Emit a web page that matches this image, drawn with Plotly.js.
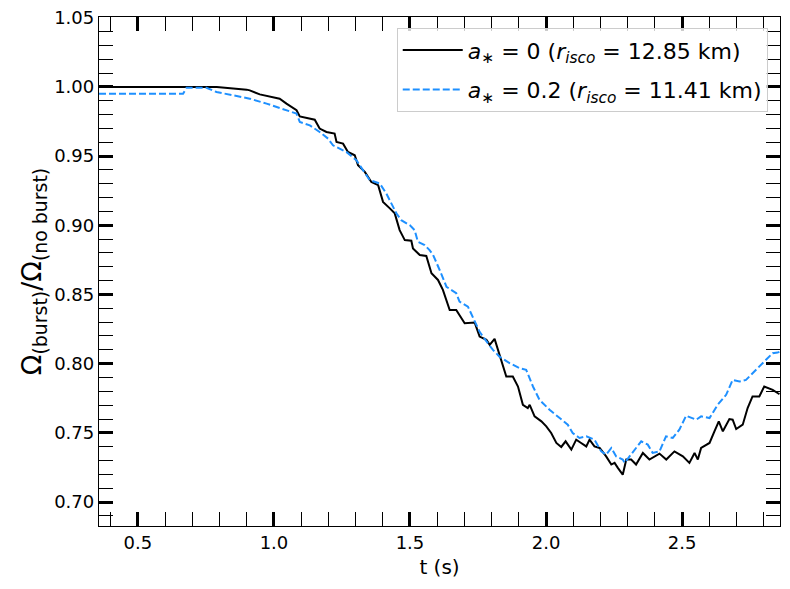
<!DOCTYPE html>
<html>
<head>
<meta charset="utf-8">
<script src="https://cdn.plot.ly/plotly-3.0.1.min.js"></script>
<style>
  html, body { margin: 0; padding: 0; background: #fff; }
  #chart { width: 790px; height: 589px; }
</style>
</head>
<body>
<div id="chart"></div>
<script>
// a* = 0 (r_isco = 12.85 km)
const tSpin0 = [0.357, 0.790, 0.900, 0.911, 0.948, 0.985, 1.021, 1.046, 1.083, 1.095, 1.150, 1.168, 1.193, 1.223, 1.230, 1.254, 1.272, 1.297, 1.309, 1.334, 1.358, 1.383, 1.401, 1.425, 1.444, 1.462, 1.481, 1.505, 1.511, 1.536, 1.560, 1.579, 1.603, 1.621, 1.646, 1.670, 1.682, 1.701, 1.738, 1.756, 1.781, 1.793, 1.811, 1.823, 1.836, 1.854, 1.878, 1.897, 1.915, 1.933, 1.940, 1.958, 1.983, 2.001, 2.019, 2.038, 2.056, 2.072, 2.093, 2.111, 2.129, 2.148, 2.160, 2.178, 2.197, 2.221, 2.240, 2.252, 2.264, 2.282, 2.295, 2.313, 2.331, 2.356, 2.380, 2.399, 2.417, 2.442, 2.472, 2.503, 2.527, 2.546, 2.558, 2.570, 2.601, 2.619, 2.635, 2.650, 2.674, 2.686, 2.699, 2.723, 2.741, 2.759, 2.784, 2.802, 2.815, 2.833, 2.851, 2.858];
const omegaSpin0 = [1.000, 1.000, 0.998, 0.9975, 0.9946, 0.9931, 0.9915, 0.9879, 0.9831, 0.9787, 0.9763, 0.9699, 0.9674, 0.9663, 0.9602, 0.9590, 0.9530, 0.9506, 0.9434, 0.9386, 0.9313, 0.9290, 0.9169, 0.9124, 0.9086, 0.8965, 0.8893, 0.8888, 0.8833, 0.8785, 0.8778, 0.8653, 0.8605, 0.8533, 0.8388, 0.8388, 0.8352, 0.8292, 0.8297, 0.8196, 0.8172, 0.8136, 0.8179, 0.8100, 0.8028, 0.7907, 0.7907, 0.7835, 0.7703, 0.7679, 0.7703, 0.7619, 0.7583, 0.7547, 0.7499, 0.7427, 0.7398, 0.7439, 0.7379, 0.7451, 0.7427, 0.7402, 0.7451, 0.7402, 0.7391, 0.7330, 0.7271, 0.7283, 0.7247, 0.7198, 0.7307, 0.7307, 0.7271, 0.7355, 0.7307, 0.7330, 0.7350, 0.7307, 0.7366, 0.7330, 0.7283, 0.7355, 0.7307, 0.7391, 0.7427, 0.7511, 0.7583, 0.7511, 0.7600, 0.7595, 0.7528, 0.7559, 0.7679, 0.7763, 0.7763, 0.7835, 0.7824, 0.7811, 0.7788, 0.7780];

// a* = 0.2 (r_isco = 11.41 km)
const tSpin02 = [0.357, 0.666, 0.679, 0.752, 0.789, 0.850, 0.911, 0.973, 1.046, 1.083, 1.095, 1.132, 1.168, 1.199, 1.217, 1.266, 1.303, 1.327, 1.352, 1.389, 1.413, 1.450, 1.468, 1.499, 1.517, 1.529, 1.554, 1.572, 1.585, 1.609, 1.634, 1.670, 1.682, 1.713, 1.731, 1.756, 1.786, 1.805, 1.829, 1.866, 1.903, 1.927, 1.952, 1.976, 2.013, 2.050, 2.080, 2.098, 2.123, 2.148, 2.178, 2.203, 2.221, 2.240, 2.258, 2.282, 2.289, 2.307, 2.331, 2.350, 2.374, 2.392, 2.417, 2.441, 2.466, 2.490, 2.515, 2.533, 2.552, 2.570, 2.601, 2.631, 2.662, 2.686, 2.711, 2.735, 2.759, 2.784, 2.809, 2.833, 2.851, 2.858];
const omegaSpin02 = [0.9951, 0.9951, 0.9994, 0.9994, 0.9963, 0.9939, 0.9915, 0.9879, 0.9831, 0.9807, 0.9746, 0.9722, 0.9674, 0.9626, 0.9578, 0.9530, 0.9470, 0.9398, 0.9326, 0.9302, 0.9230, 0.9086, 0.9037, 0.9001, 0.8965, 0.8881, 0.8857, 0.8821, 0.8785, 0.8677, 0.8556, 0.8509, 0.8448, 0.8412, 0.8340, 0.8230, 0.8148, 0.8100, 0.8051, 0.8004, 0.7968, 0.7956, 0.7835, 0.7739, 0.7667, 0.7607, 0.7559, 0.7499, 0.7463, 0.7475, 0.7451, 0.7366, 0.7343, 0.7391, 0.7330, 0.7307, 0.7283, 0.7330, 0.7391, 0.7439, 0.7415, 0.7355, 0.7366, 0.7475, 0.7463, 0.7523, 0.7624, 0.7607, 0.7595, 0.7619, 0.7607, 0.7703, 0.7775, 0.7883, 0.7871, 0.7883, 0.7932, 0.7979, 0.8028, 0.8076, 0.8080, 0.8085];

const xTickVals = [0.5, 1.0, 1.5, 2.0, 2.5];
const xTickText = ["0.5", "1.0", "1.5", "2.0", "2.5"];
const yTickVals = [0.70, 0.75, 0.80, 0.85, 0.90, 0.95, 1.00, 1.05];
const yTickText = ["0.70", "0.75", "0.80", "0.85", "0.90", "0.95", "1.00", "1.05"];

const spin0Trace = {
  x: tSpin0,
  y: omegaSpin0,
  mode: "lines",
  type: "scatter",
  legendgroup: "spin0",
  name: "<i>a</i><sub>∗</sub> = 0 (<i>r</i><sub><i>isco</i></sub> = 12.85 km)",
  line: { color: "#000000", width: 2 },
};

const spin02Trace = {
  x: tSpin02,
  y: omegaSpin02,
  mode: "lines",
  type: "scatter",
  legendgroup: "spin02",
  name: "<i>a</i><sub>∗</sub> = 0.2 (<i>r</i><sub><i>isco</i></sub> = 11.41 km)",
  line: { color: "#1e90ff", width: 2, dash: "7px,3px" },
};

const axisStyle = {
  showgrid: false,
  zeroline: false,
  showline: true,
  linecolor: "#000",
  linewidth: 1.3,
  mirror: "allticks",
  ticks: "inside",
  ticklen: 14,
  tickwidth: 2.5,
  tickcolor: "#000",
  tickfont: { family: "DejaVu Sans", size: 18, color: "#000" },
};

const chartLayout = {
  width: 790,
  height: 589,
  margin: { l: 99, r: 10, t: 17, b: 63 },
  paper_bgcolor: "#fff",
  plot_bgcolor: "#fff",
  font: { family: "DejaVu Sans", color: "#000" },
  showlegend: true,
  legend: {
    x: 0.982,
    y: 0.978,
    xanchor: "right",
    yanchor: "top",
    traceorder: "grouped",
    tracegroupgap: 8,
    itemwidth: 60,
    bgcolor: "rgba(255,255,255,0.8)",
    bordercolor: "#cccccc",
    borderwidth: 1,
    font: { family: "DejaVu Sans", size: 22, color: "#000" },
  },
  xaxis: {
    ...axisStyle,
    range: [0.357, 2.86],
    tickvals: xTickVals,
    ticktext: xTickText,
    minor: { dtick: 0.1, tick0: 0, ticks: "inside", ticklen: 14, tickwidth: 1, tickcolor: "#000" },
    title: { text: "t (s)", font: { family: "DejaVu Sans", size: 20 }, standoff: 8 },
  },
  yaxis: {
    ...axisStyle,
    range: [0.6827, 1.0505],
    tickvals: yTickVals,
    ticktext: yTickText,
    minor: { dtick: 0.01, tick0: 0, ticks: "inside", ticklen: 14, tickwidth: 1, tickcolor: "#000" },
    title: {
      text: "Ω<sub>(burst)</sub>/Ω<sub>(no burst)</sub>",
      font: { family: "DejaVu Sans", size: 27 },
      standoff: 4,
    },
  },
};

const chartConfig = { displayModeBar: false, responsive: false };

Plotly.newPlot("chart", [spin0Trace, spin02Trace], chartLayout, chartConfig);
</script>
</body>
</html>
